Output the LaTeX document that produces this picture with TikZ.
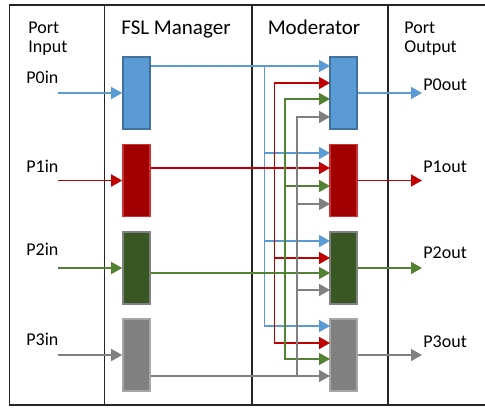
\documentclass[tikz,border=0pt]{standalone}
\usepackage{fontspec}
\setmainfont{Carlito}
\usetikzlibrary{arrows.meta}
\definecolor{pblue}{HTML}{5B9BD5}
\definecolor{pblueb}{HTML}{41719C}
\definecolor{pred}{HTML}{C00000}
\definecolor{predf}{HTML}{A00000}
\definecolor{pgreen}{HTML}{548235}
\definecolor{pgreenf}{HTML}{385723}
\definecolor{pgray}{HTML}{808080}
\definecolor{pgrayb}{HTML}{A6A6A6}
\tikzset{
  blk/.style={draw, line width=0.8pt, minimum width=13.5pt, minimum height=36pt, inner sep=0pt},
  wire/.style={line width=0.75pt},
  arr/.style={wire, -{Triangle[length=5.5pt,width=6pt]}},
  lbl/.style={font=\fontsize{9}{10}\selectfont, inner sep=0pt, anchor=base west},
  head/.style={font=\fontsize{10.5}{12}\selectfont, inner sep=0pt, anchor=base}
}
\begin{document}
\begin{tikzpicture}[x=0.5pt,y=-0.5pt]
\useasboundingbox (0,0) rectangle (485,407);
% frame and columns
\draw[line width=0.8pt,black!85] (485,5) -- (9.5,5) -- (9.5,405) -- (485,405);
\draw[line width=0.8pt,black!85] (104.5,5) -- (104.5,405);
\draw[line width=0.8pt,black!85] (252,5) -- (252,405);
\draw[line width=0.8pt,black!85] (388,5) -- (388,405);
% column titles
\node[lbl] (tin1) at (28,33) {Port};
\node[lbl] (tin2) at (28,52) {Input};
\node[head] (tfsl) at (176,34) {FSL Manager};
\node[head] (tmod) at (314,34) {Moderator};
\node[lbl] (tout1) at (404,33) {Port};
\node[lbl] (tout2) at (404,52) {Output};
% FSL manager blocks
\node[blk,draw=pblueb,fill=pblue] (f0) at (136.5,93) {};
\node[blk,draw=pred!80,fill=predf] (f1) at (136.5,180.5) {};
\node[blk,draw=pgray,fill=pgreenf] (f2) at (136.5,268) {};
\node[blk,draw=pgrayb,fill=pgray] (f3) at (136.5,355) {};
% moderator blocks
\node[blk,draw=pblueb,fill=pblue] (m0) at (343.5,93) {};
\node[blk,draw=pred!80,fill=predf] (m1) at (343.5,180.5) {};
\node[blk,draw=pgray,fill=pgreenf] (m2) at (343.5,268) {};
\node[blk,draw=pgrayb,fill=pgray] (m3) at (343.5,355) {};
% port labels
\node[lbl] (p0in) at (26,83) {P0in};
\node[lbl] (p1in) at (26,172) {P1in};
\node[lbl] (p2in) at (26,255) {P2in};
\node[lbl] (p3in) at (26,345) {P3in};
\node[lbl] (p0out) at (423,90) {P0out};
\node[lbl] (p1out) at (423,172) {P1out};
\node[lbl] (p2out) at (423,258) {P2out};
\node[lbl] (p3out) at (423,347) {P3out};
% input and output ends
\coordinate (i0) at (58,93);
\coordinate (i1) at (58,180.5);
\coordinate (i2) at (58,268);
\coordinate (i3) at (58,355);
\coordinate (o0) at (422,93);
\coordinate (o1) at (422,180.5);
\coordinate (o2) at (422,268);
\coordinate (o3) at (422,355);
\draw[arr,pblue] (i0) -- (f0.west);
\draw[arr,pred] (i1) -- (f1.west);
\draw[arr,pgreen] (i2) -- (f2.west);
\draw[arr,pgray] (i3) -- (f3.west);
\draw[arr,pblue] (m0.east) -- (o0);
\draw[arr,pred] (m1.east) -- (o1);
\draw[arr,pgreen] (m2.east) -- (o2);
\draw[arr,pgray] (m3.east) -- (o3);
% slots on the moderator blocks (s<block><source>)
\coordinate (s00) at (330,66);  \coordinate (s01) at (330,83);
\coordinate (s02) at (330,99);  \coordinate (s03) at (330,117);
\coordinate (s10) at (330,153); \coordinate (s11) at (330,168);
\coordinate (s12) at (330,186); \coordinate (s13) at (330,204);
\coordinate (s20) at (330,241); \coordinate (s21) at (330,258);
\coordinate (s22) at (330,273); \coordinate (s23) at (330,290);
\coordinate (s30) at (330,326); \coordinate (s31) at (330,343);
\coordinate (s32) at (330,359); \coordinate (s33) at (330,376);
% bus taps
\coordinate (b0) at (264.5,66);
\coordinate (b1) at (274.5,168);
\coordinate (b2) at (285,273);
\coordinate (b3) at (297,376);
% blue bus
\draw[arr,pblue] (f0.east |- s00) -- (s00);
\draw[arr,pblue] (b0) |- (s10);
\draw[arr,pblue] (b0) |- (s20);
\draw[arr,pblue] (b0) |- (s30);
% red bus
\draw[arr,pred] (f1.east |- s11) -- (s11);
\draw[arr,pred] (b1) |- (s01);
\draw[arr,pred] (b1) |- (s21);
\draw[arr,pred] (b1) |- (s31);
% green bus
\draw[arr,pgreen] (f2.east |- s22) -- (s22);
\draw[arr,pgreen] (b2) |- (s02);
\draw[arr,pgreen] (b2) |- (s12);
\draw[arr,pgreen] (b2) |- (s32);
% gray bus
\draw[arr,pgray] (f3.east |- s33) -- (s33);
\draw[arr,pgray] (b3) |- (s03);
\draw[arr,pgray] (b3) |- (s13);
\draw[arr,pgray] (b3) |- (s23);
\end{tikzpicture}
\end{document}
